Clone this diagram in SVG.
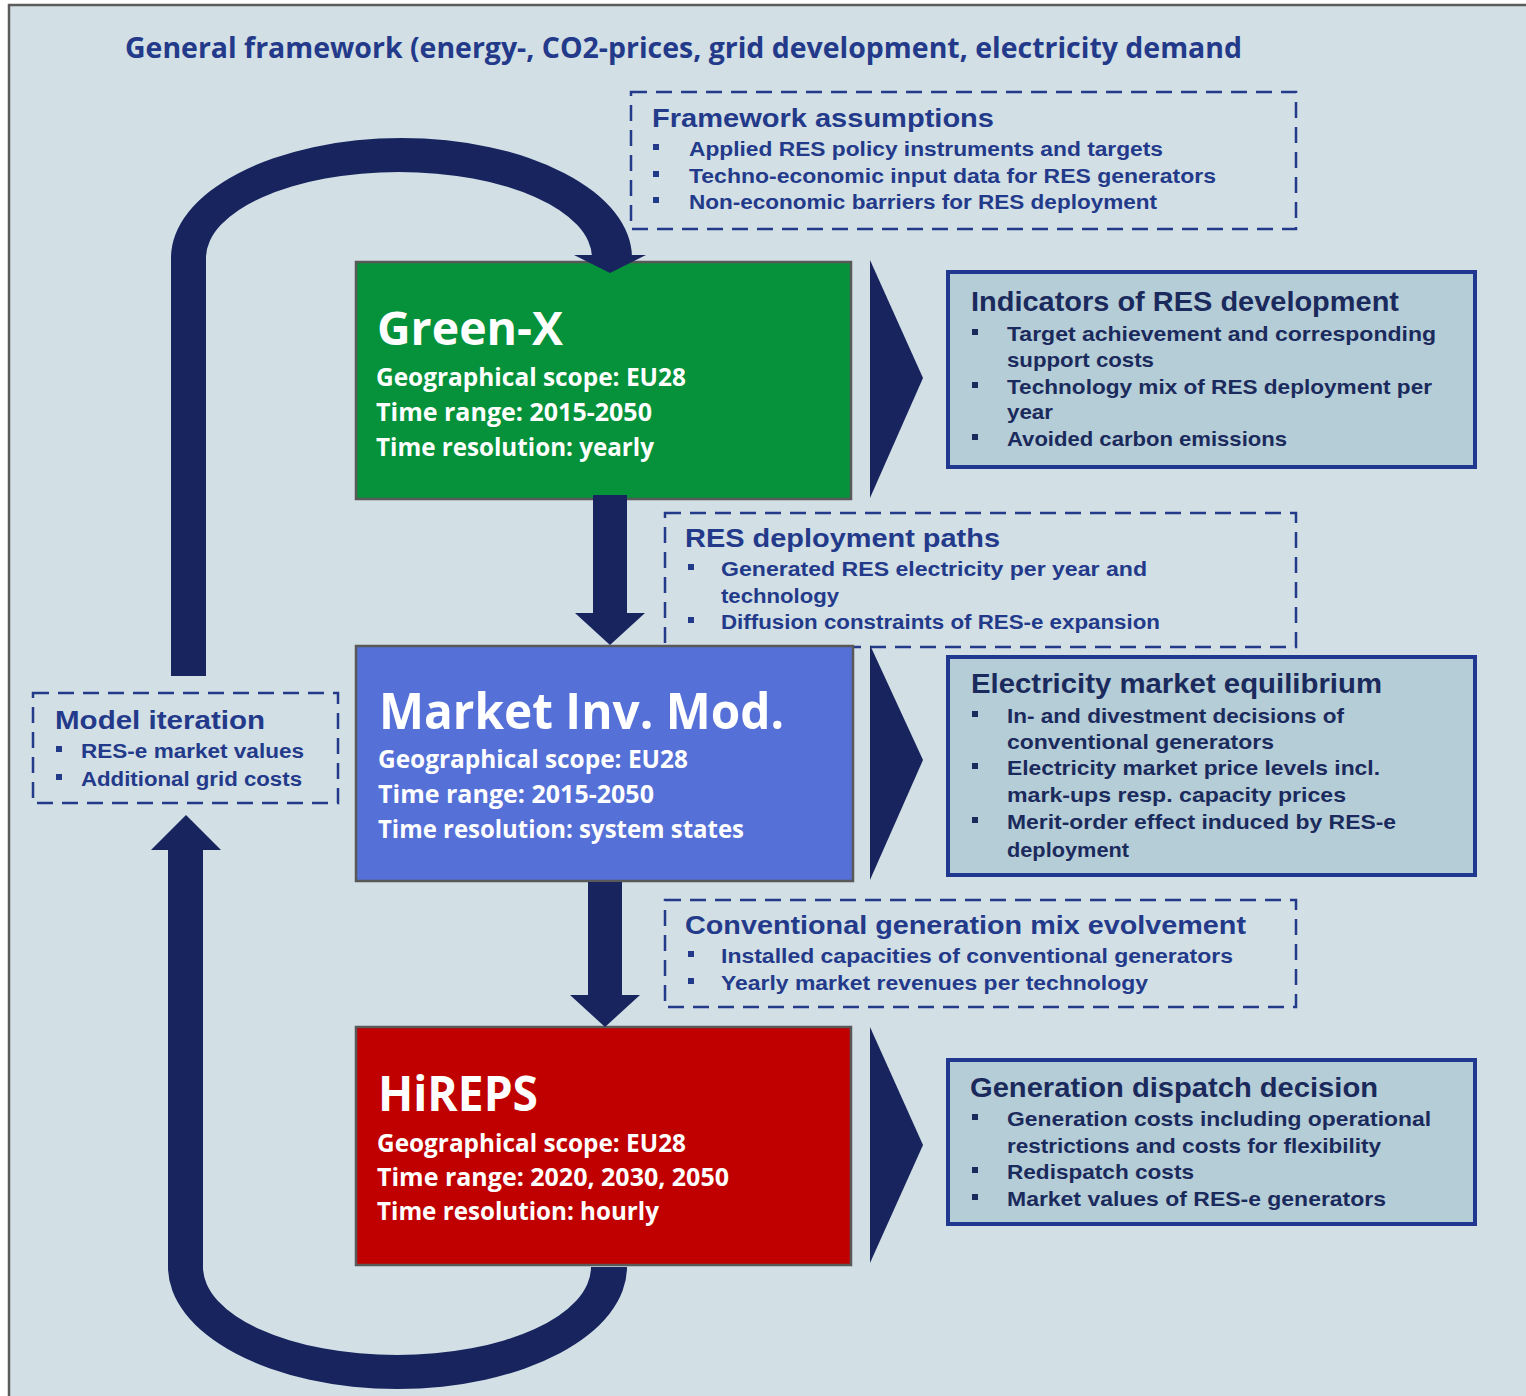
<svg xmlns="http://www.w3.org/2000/svg" width="1526" height="1396" viewBox="0 0 1526 1396">
  <style>
    .frame { fill: #d2dfe5; stroke: #5b5b5b; stroke-width: 2.5; }
    .dash { fill: none; stroke: #233a8a; stroke-width: 2.5; stroke-dasharray: 16 9; }
    .out { fill: #b5cdd6; stroke: #203890; stroke-width: 4; }
    .model { stroke: #595959; stroke-width: 2.5; }
    .arrow { fill: #17245e; }
    .title { font-family: "Open Sans", "Liberation Sans", sans-serif; font-weight: 700; font-size: 29px; fill: #233a8a; }
    .mname { font-family: "Open Sans", "Liberation Sans", sans-serif; font-weight: 700; fill: #ffffff; }
    .minfo { font-family: "Open Sans", "Liberation Sans", sans-serif; font-weight: 700; font-size: 25px; fill: #ffffff; }
    .dh { font-family: "Liberation Sans", Arial, sans-serif; font-weight: 700; font-size: 26px; fill: #233a8a; }
    .db { font-family: "Liberation Sans", Arial, sans-serif; font-weight: 700; font-size: 20px; fill: #233a8a; }
    .oh { font-family: "Liberation Sans", Arial, sans-serif; font-weight: 700; font-size: 28px; fill: #1b2a5c; }
    .ob { font-family: "Liberation Sans", Arial, sans-serif; font-weight: 700; font-size: 21px; fill: #1b2a5c; }
    .bd { fill: #233a8a; }
    .bo { fill: #1b2a5c; }
  </style>

  <!-- background panel -->
  <rect class="frame" x="9" y="5" width="1540" height="1420"/>

  <text class="title" x="125" y="58" textLength="1117" lengthAdjust="spacingAndGlyphs">General framework (energy-, CO2-prices, grid development, electricity demand</text>

  <!-- dashed information boxes -->
  <g id="framework-assumptions">
    <rect class="dash" x="631" y="92" width="665" height="137"/>
    <text class="dh" x="652" y="127" textLength="342" lengthAdjust="spacingAndGlyphs">Framework assumptions</text>
    <rect class="bd" x="653" y="144" width="6" height="6"/>
    <rect class="bd" x="653" y="171" width="6" height="6"/>
    <rect class="bd" x="653" y="197" width="6" height="6"/>
    <text class="db" x="689" y="156" textLength="474" lengthAdjust="spacingAndGlyphs">Applied RES policy instruments and targets</text>
    <text class="db" x="689" y="183" textLength="527" lengthAdjust="spacingAndGlyphs">Techno-economic input data for RES generators</text>
    <text class="db" x="689" y="209" textLength="468" lengthAdjust="spacingAndGlyphs">Non-economic barriers for RES deployment</text>
  </g>

  <g id="res-deployment-paths">
    <rect class="dash" x="665" y="513" width="631" height="134"/>
    <text class="dh" x="685" y="547" textLength="315" lengthAdjust="spacingAndGlyphs">RES deployment paths</text>
    <rect class="bd" x="688" y="564" width="6" height="6"/>
    <rect class="bd" x="688" y="617" width="6" height="6"/>
    <text class="db" x="721" y="576" textLength="426" lengthAdjust="spacingAndGlyphs">Generated RES electricity per year and</text>
    <text class="db" x="721" y="603" textLength="118" lengthAdjust="spacingAndGlyphs">technology</text>
    <text class="db" x="721" y="629" textLength="439" lengthAdjust="spacingAndGlyphs">Diffusion constraints of RES-e expansion</text>
  </g>

  <g id="conventional-mix">
    <rect class="dash" x="665" y="900" width="631" height="107"/>
    <text class="dh" x="685" y="934" textLength="561" lengthAdjust="spacingAndGlyphs">Conventional generation mix evolvement</text>
    <rect class="bd" x="688" y="951" width="6" height="6"/>
    <rect class="bd" x="688" y="978" width="6" height="6"/>
    <text class="db" x="721" y="963" textLength="512" lengthAdjust="spacingAndGlyphs">Installed capacities of conventional generators</text>
    <text class="db" x="721" y="990" textLength="427" lengthAdjust="spacingAndGlyphs">Yearly market revenues per technology</text>
  </g>

  <g id="model-iteration">
    <rect class="dash" x="33" y="693" width="305" height="110"/>
    <text class="dh" x="55" y="729" textLength="210" lengthAdjust="spacingAndGlyphs">Model iteration</text>
    <rect class="bd" x="56" y="746" width="6" height="6"/>
    <rect class="bd" x="56" y="774" width="6" height="6"/>
    <text class="db" x="81" y="758" textLength="223" lengthAdjust="spacingAndGlyphs">RES-e market values</text>
    <text class="db" x="81" y="786" textLength="221" lengthAdjust="spacingAndGlyphs">Additional grid costs</text>
  </g>

  <!-- model boxes -->
  <g id="green-x">
    <rect class="model" x="356" y="262" width="495" height="237" fill="#05923a"/>
    <text class="mname" x="377" y="345" font-size="47" textLength="186" lengthAdjust="spacingAndGlyphs">Green-X</text>
    <text class="minfo" x="376" y="386" textLength="310" lengthAdjust="spacingAndGlyphs">Geographical scope: EU28</text>
    <text class="minfo" x="376" y="421" textLength="276" lengthAdjust="spacingAndGlyphs">Time range: 2015-2050</text>
    <text class="minfo" x="376" y="456" textLength="278" lengthAdjust="spacingAndGlyphs">Time resolution: yearly</text>
  </g>

  <g id="market-inv-mod">
    <rect class="model" x="356" y="646" width="497" height="235" fill="#5570d7"/>
    <text class="mname" x="379" y="729" font-size="50" textLength="405" lengthAdjust="spacingAndGlyphs">Market Inv. Mod.</text>
    <text class="minfo" x="378" y="768" textLength="310" lengthAdjust="spacingAndGlyphs">Geographical scope: EU28</text>
    <text class="minfo" x="378" y="803" textLength="276" lengthAdjust="spacingAndGlyphs">Time range: 2015-2050</text>
    <text class="minfo" x="378" y="838" textLength="366" lengthAdjust="spacingAndGlyphs">Time resolution: system states</text>
  </g>

  <g id="hireps">
    <rect class="model" x="356" y="1027" width="495" height="238" fill="#c00000"/>
    <text class="mname" x="378" y="1111" font-size="48" textLength="160" lengthAdjust="spacingAndGlyphs">HiREPS</text>
    <text class="minfo" x="377" y="1152" textLength="309" lengthAdjust="spacingAndGlyphs">Geographical scope: EU28</text>
    <text class="minfo" x="377" y="1186" textLength="352" lengthAdjust="spacingAndGlyphs">Time range: 2020, 2030, 2050</text>
    <text class="minfo" x="377" y="1220" textLength="282" lengthAdjust="spacingAndGlyphs">Time resolution: hourly</text>
  </g>

  <!-- output boxes -->
  <g id="indicators">
    <rect class="out" x="948" y="272" width="527" height="195"/>
    <text class="oh" x="971" y="311" textLength="428" lengthAdjust="spacingAndGlyphs">Indicators of RES development</text>
    <rect class="bo" x="972" y="329" width="6" height="6"/>
    <rect class="bo" x="972" y="382" width="6" height="6"/>
    <rect class="bo" x="972" y="434" width="6" height="6"/>
    <text class="ob" x="1007" y="341" textLength="429" lengthAdjust="spacingAndGlyphs">Target achievement and corresponding</text>
    <text class="ob" x="1007" y="367" textLength="147" lengthAdjust="spacingAndGlyphs">support costs</text>
    <text class="ob" x="1007" y="394" textLength="425" lengthAdjust="spacingAndGlyphs">Technology mix of RES deployment per</text>
    <text class="ob" x="1007" y="419" textLength="46" lengthAdjust="spacingAndGlyphs">year</text>
    <text class="ob" x="1007" y="446" textLength="280" lengthAdjust="spacingAndGlyphs">Avoided carbon emissions</text>
  </g>

  <g id="market-equilibrium">
    <rect class="out" x="948" y="657" width="527" height="218"/>
    <text class="oh" x="971" y="693" textLength="411" lengthAdjust="spacingAndGlyphs">Electricity market equilibrium</text>
    <rect class="bo" x="972" y="711" width="6" height="6"/>
    <rect class="bo" x="972" y="763" width="6" height="6"/>
    <rect class="bo" x="972" y="817" width="6" height="6"/>
    <text class="ob" x="1007" y="723" textLength="337" lengthAdjust="spacingAndGlyphs">In- and divestment decisions of</text>
    <text class="ob" x="1007" y="749" textLength="267" lengthAdjust="spacingAndGlyphs">conventional generators</text>
    <text class="ob" x="1007" y="775" textLength="373" lengthAdjust="spacingAndGlyphs">Electricity market price levels incl.</text>
    <text class="ob" x="1007" y="802" textLength="339" lengthAdjust="spacingAndGlyphs">mark-ups resp. capacity prices</text>
    <text class="ob" x="1007" y="829" textLength="389" lengthAdjust="spacingAndGlyphs">Merit-order effect induced by RES-e</text>
    <text class="ob" x="1007" y="857" textLength="122" lengthAdjust="spacingAndGlyphs">deployment</text>
  </g>

  <g id="dispatch-decision">
    <rect class="out" x="948" y="1060" width="527" height="164"/>
    <text class="oh" x="970" y="1097" textLength="408" lengthAdjust="spacingAndGlyphs">Generation dispatch decision</text>
    <rect class="bo" x="972" y="1114" width="6" height="6"/>
    <rect class="bo" x="972" y="1167" width="6" height="6"/>
    <rect class="bo" x="972" y="1194" width="6" height="6"/>
    <text class="ob" x="1007" y="1126" textLength="424" lengthAdjust="spacingAndGlyphs">Generation costs including operational</text>
    <text class="ob" x="1007" y="1153" textLength="374" lengthAdjust="spacingAndGlyphs">restrictions and costs for flexibility</text>
    <text class="ob" x="1007" y="1179" textLength="187" lengthAdjust="spacingAndGlyphs">Redispatch costs</text>
    <text class="ob" x="1007" y="1206" textLength="379" lengthAdjust="spacingAndGlyphs">Market values of RES-e generators</text>
  </g>

  <!-- connectors: loop arrows, block arrows and output chevrons -->
  <g id="connectors">
    <path class="arrow" d="M171,676 L171,258 A230.5,120 0 0 1 632,258 L632,255 L646,255 L610,273 L574,255 L592,255 L592,258 A193,86 0 0 0 206,258 L206,676 Z"/>
    <path class="arrow" d="M151,850 L186,815 L221,850 L203,850 L203,1267 A194,88 0 0 0 591,1267 L627,1267 A229.5,122 0 0 1 168,1267 L168,850 Z"/>
    <path class="arrow" d="M593,495 L627,495 L627,613 L645,613 L610,645 L575,613 L593,613 Z"/>
    <path class="arrow" d="M588,882 L622,882 L622,995 L640,995 L605,1027 L570,995 L588,995 Z"/>
    <path class="arrow" d="M870,260 L923,378 L870,498 Z"/>
    <path class="arrow" d="M870,645 L923,760 L870,880 Z"/>
    <path class="arrow" d="M870,1027 L923,1145 L870,1263 Z"/>
  </g>
</svg>
